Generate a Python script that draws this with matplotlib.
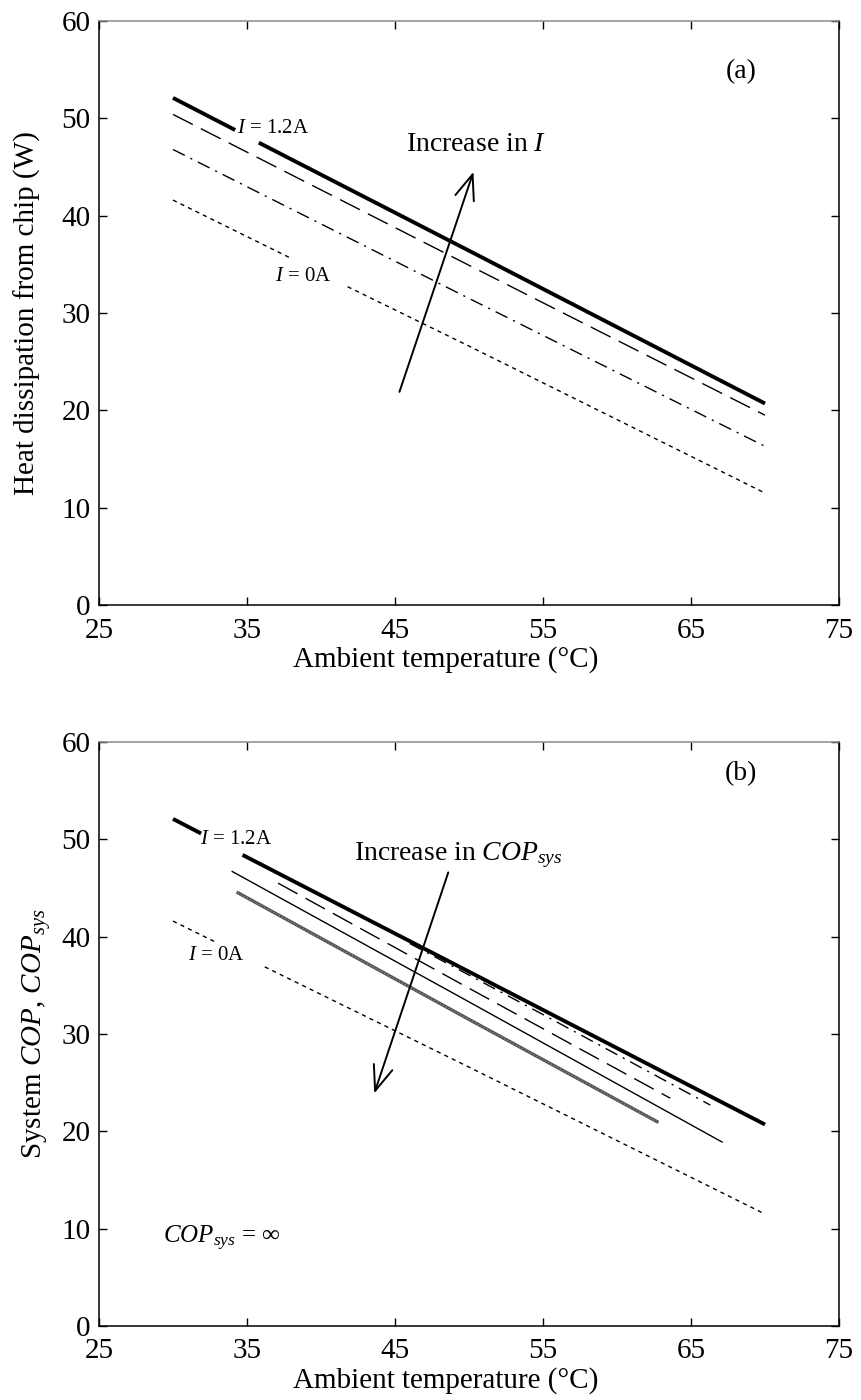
import numpy as np
import matplotlib
matplotlib.use("Agg")
import matplotlib.pyplot as plt

plt.rcParams["font.family"] = ["Liberation Serif", "DejaVu Serif"]
plt.rcParams["mathtext.fontset"] = "custom"
plt.rcParams["mathtext.rm"] = "Liberation Serif"
plt.rcParams["mathtext.it"] = "Liberation Serif:italic"
plt.rcParams["mathtext.bf"] = "Liberation Serif:bold"

nan = np.nan

# ---- panel (a): heat dissipation from chip vs ambient temperature ----
a_temp_12A = [30, 34.2, nan, 35.8, 50, 70]
a_heat_12A = [52.1, 48.8, nan, 47.5, 36.4, 20.7]
a_temp_hi = [30, 50, 70]
a_heat_hi = [50.4, 34.9, 19.5]
a_temp_mid = [30, 50, 70]
a_heat_mid = [46.8, 31.5, 16.3]
a_temp_0A = [30, 38.0, nan, 41.8, 50, 70]
a_heat_0A = [41.6, 35.6, nan, 32.7, 26.6, 11.5]

# ---- panel (b): system COP curves ----
b_temp_12A = [30, 31.9, nan, 34.7, 50, 70]
b_heat_12A = [52.1, 50.6, nan, 48.4, 36.4, 20.7]
b_temp_cop1 = [46.0, 55, 66.3]
b_heat_cop1 = [39.3, 32.0, 22.7]
b_temp_cop2 = [37.1, 50, 63.6]
b_heat_cop2 = [45.5, 34.7, 23.4]
b_temp_cop3 = [34.0, 50, 67.1]
b_heat_cop3 = [46.7, 33.3, 18.9]
b_temp_cop4 = [34.4, 50, 62.7]
b_heat_cop4 = [44.5, 31.5, 21.0]
b_temp_0A = [30, 32.8, nan, 36.2, 50, 70]
b_heat_0A = [41.6, 39.5, nan, 36.9, 26.6, 11.5]

x_ticks = [25, 35, 45, 55, 65, 75]
y_ticks = [0, 10, 20, 30, 40, 50, 60]

TICK_FS = 21
LABEL_FS = 21

fig = plt.figure(figsize=(8.61, 14.0), dpi=100)
W, H = 861, 1400
ax_a = fig.add_axes([99 / W, 1 - 605 / H, 740 / W, 584 / H])
ax_b = fig.add_axes([99 / W, 1 - 1326 / H, 740 / W, 584 / H])

long_dash = (0, (16, 6.5))
dash_dot = (0, (9.5, 4.5, 1.5, 4.5))
dots = (0, (3, 3))


def style_axes(ax):
    ax.set_xlim(25, 75)
    ax.set_ylim(0, 60)
    ax.set_xticks(x_ticks)
    ax.set_yticks(y_ticks)
    ax.tick_params(direction="in", top=True, right=True, length=6, width=1,
                   labelsize=TICK_FS)
    ax.tick_params(axis="x", pad=9)
    ax.tick_params(axis="y", pad=6)
    for side, sp in ax.spines.items():
        sp.set_linewidth(1.1)
        sp.set_color("black")
    ax.spines["top"].set_color("#8a8a8a")
    ax.set_xlabel("Ambient temperature (°C)", fontsize=LABEL_FS)
    ax.xaxis.set_label_coords((446 - 99) / 740, -0.071)


# panel (a)
ax_a.plot(a_temp_12A, a_heat_12A, color="black", lw=2.8, solid_capstyle="butt")
ax_a.plot(a_temp_hi, a_heat_hi, color="black", lw=1.0, linestyle=long_dash)
ax_a.plot(a_temp_mid, a_heat_mid, color="black", lw=1.0, linestyle=dash_dot)
ax_a.plot(a_temp_0A, a_heat_0A, color="black", lw=1.0, linestyle=dots)
style_axes(ax_a)
ax_a.set_ylabel("Heat dissipation from chip (W)", fontsize=LABEL_FS, labelpad=15)
ax_a.text(34.3, 49.0, r"$I$ = 1.2A", fontsize=15, va="center", ha="left")
ax_a.text(36.9, 33.8, r"$I$ = 0A", fontsize=15, va="center", ha="left")
ax_a.text(50.5, 47.3, r"Increase in $I$", fontsize=20, va="center", ha="center")
ax_a.annotate("", xy=(50.3, 44.5), xytext=(45.3, 21.9),
              arrowprops=dict(arrowstyle="->,head_length=0.9,head_width=0.35",
                              lw=1.4, color="black", mutation_scale=20,
                              shrinkA=0, shrinkB=0))
ax_a.text(68.4, 54.8, "(a)", fontsize=20, va="center", ha="center")

# panel (b)
ax_b.plot(b_temp_12A, b_heat_12A, color="black", lw=2.8, solid_capstyle="butt")
ax_b.plot(b_temp_cop1, b_heat_cop1, color="black", lw=1.0, linestyle=dash_dot)
ax_b.plot(b_temp_cop2, b_heat_cop2, color="black", lw=1.0, linestyle=long_dash)
ax_b.plot(b_temp_cop3, b_heat_cop3, color="black", lw=1.0)
ax_b.plot(b_temp_cop4, b_heat_cop4, color="#555555", lw=2.4)
ax_b.plot(b_temp_cop4, b_heat_cop4, color="#9a9a9a", lw=0.8, linestyle=(0, (1, 2)))
ax_b.plot(b_temp_0A, b_heat_0A, color="black", lw=1.0, linestyle=dots)
style_axes(ax_b)
ax_b.set_ylabel(r"System $COP$, $COP_{sys}$", fontsize=LABEL_FS, labelpad=6)
ax_b.text(31.8, 50.0, r"$I$ = 1.2A", fontsize=15, va="center", ha="left")
ax_b.text(31.0, 38.1, r"$I$ = 0A", fontsize=15, va="center", ha="left")
ax_b.text(42.2, 48.4, r"Increase in $COP_{sys}$", fontsize=20, va="center", ha="left")
ax_b.annotate("", xy=(43.6, 23.9), xytext=(48.6, 46.6),
              arrowprops=dict(arrowstyle="->,head_length=0.9,head_width=0.35",
                              lw=1.4, color="black", mutation_scale=20,
                              shrinkA=0, shrinkB=0))
ax_b.text(68.4, 56.8, "(b)", fontsize=20, va="center", ha="center")
ax_b.text(29.3, 9.0, r"$COP_{sys}$ = ∞", fontsize=18, va="center", ha="left")

fig.savefig("out.png", dpi=100)
